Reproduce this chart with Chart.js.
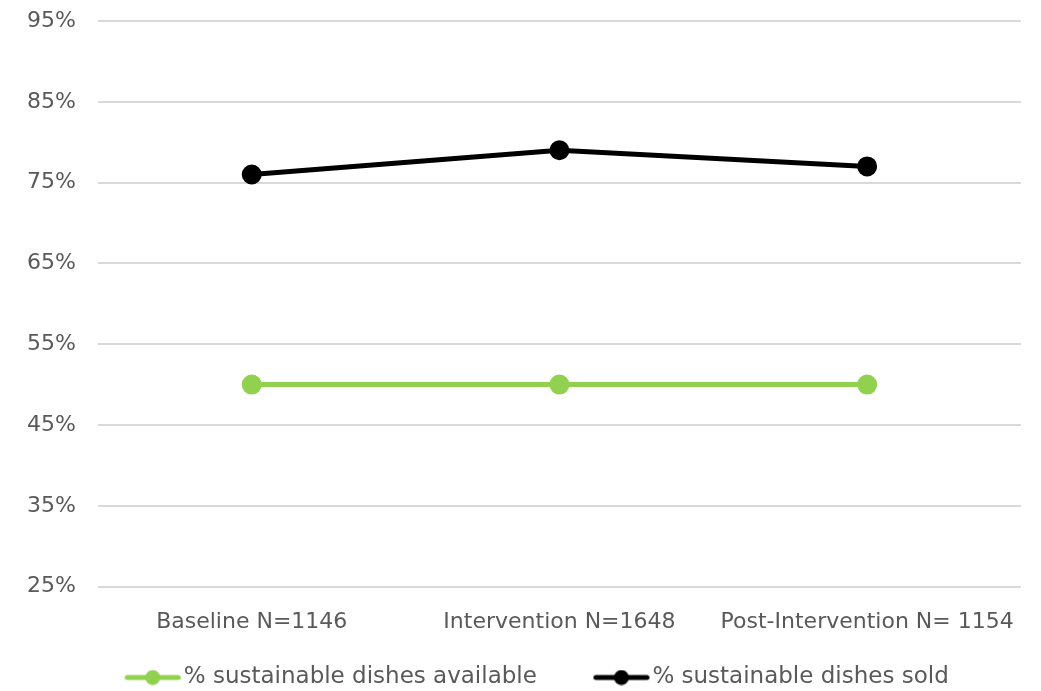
<!DOCTYPE html>
<html>
<head>
<meta charset="utf-8">
<script src="https://cdn.jsdelivr.net/npm/chart.js@4/dist/chart.umd.min.js"></script>
<style>
  html, body { margin: 0; padding: 0; background: #fff; }
  #wrap { width: 1041px; height: 691px; }
</style>
</head>
<body>
<div id="wrap"><canvas id="chart"></canvas></div>
<script>
// periods and shares (in %)
const periods = ["Baseline N=1146", "Intervention N=1648", "Post-Intervention N= 1154"];
const availableShare = [50, 50, 50];
const soldShare = [76, 79, 77];
const yTicks = [25, 35, 45, 55, 65, 75, 85, 95];

const GREEN = "#92d050";
const BLACK = "#000000";
const TEXT = "#595959";
const FONT = "'DejaVu Sans', sans-serif";

// legend marker: short line with a dot, pushed to the right end of the box
// so it sits close to the label text
function legendMarker(color) {
    const c = document.createElement("canvas");
    c.width = 118;
    c.height = 16;
    const g = c.getContext("2d");
    g.strokeStyle = color;
    g.lineWidth = 5;
    g.lineCap = "round";
    g.beginPath();
    g.moveTo(61.5, 8);
    g.lineTo(112.5, 8);
    g.stroke();
    g.fillStyle = color;
    g.beginPath();
    g.arc(87, 8, 7.5, 0, Math.PI * 2);
    g.fill();
    return c;
}

const markers = [legendMarker(GREEN), legendMarker(BLACK)];

const ctx = document.getElementById("chart");
new Chart(ctx, {
    type: "line",
    data: {
        labels: periods,
        datasets: [
            {
                label: "% sustainable dishes available",
                data: availableShare,
                borderColor: GREEN,
                backgroundColor: GREEN,
                borderWidth: 5,
                pointRadius: 7.5,
                pointHoverRadius: 7.5
            },
            {
                label: "% sustainable dishes sold",
                data: soldShare,
                borderColor: BLACK,
                backgroundColor: BLACK,
                borderWidth: 5,
                pointRadius: 7.5,
                pointHoverRadius: 7.5
            }
        ]
    },
    options: {
        responsive: true,
        maintainAspectRatio: false,
        animation: false,
        layout: { padding: { left: 5, right: 20, top: 21, bottom: -8 } },
        scales: {
            x: {
                offset: true,
                grid: { display: false, drawTicks: false },
                border: { display: false },
                ticks: { color: TEXT, font: { family: FONT, size: 22 }, padding: 22, maxRotation: 0 }
            },
            y: {
                min: 25,
                max: 95,
                afterBuildTicks: axis => { axis.ticks = yTicks.map(v => ({ value: v })); },
                // let the top tick label hang above the plot instead of reserving room for it
                afterFit: axis => { axis.paddingTop = 0; },
                grid: { color: "#d9d9d9", lineWidth: 2, drawTicks: false },
                border: { display: false },
                ticks: {
                    color: TEXT,
                    font: { family: FONT, size: 22 },
                    padding: 22,
                    callback: v => v + "%"
                }
            }
        },
        plugins: {
            tooltip: { enabled: false },
            legend: {
                position: "bottom",
                labels: {
                    color: TEXT,
                    font: { family: FONT, size: 23 },
                    usePointStyle: true,
                    pointStyleWidth: 95,
                    padding: 9,
                    boxHeight: 16,
                    generateLabels: chart => chart.data.datasets.map((ds, i) => ({
                        text: ds.label,
                        fontColor: TEXT,
                        pointStyle: markers[i],
                        datasetIndex: i,
                        hidden: false,
                        lineWidth: 0
                    }))
                }
            }
        }
    }
});
</script>
</body>
</html>
